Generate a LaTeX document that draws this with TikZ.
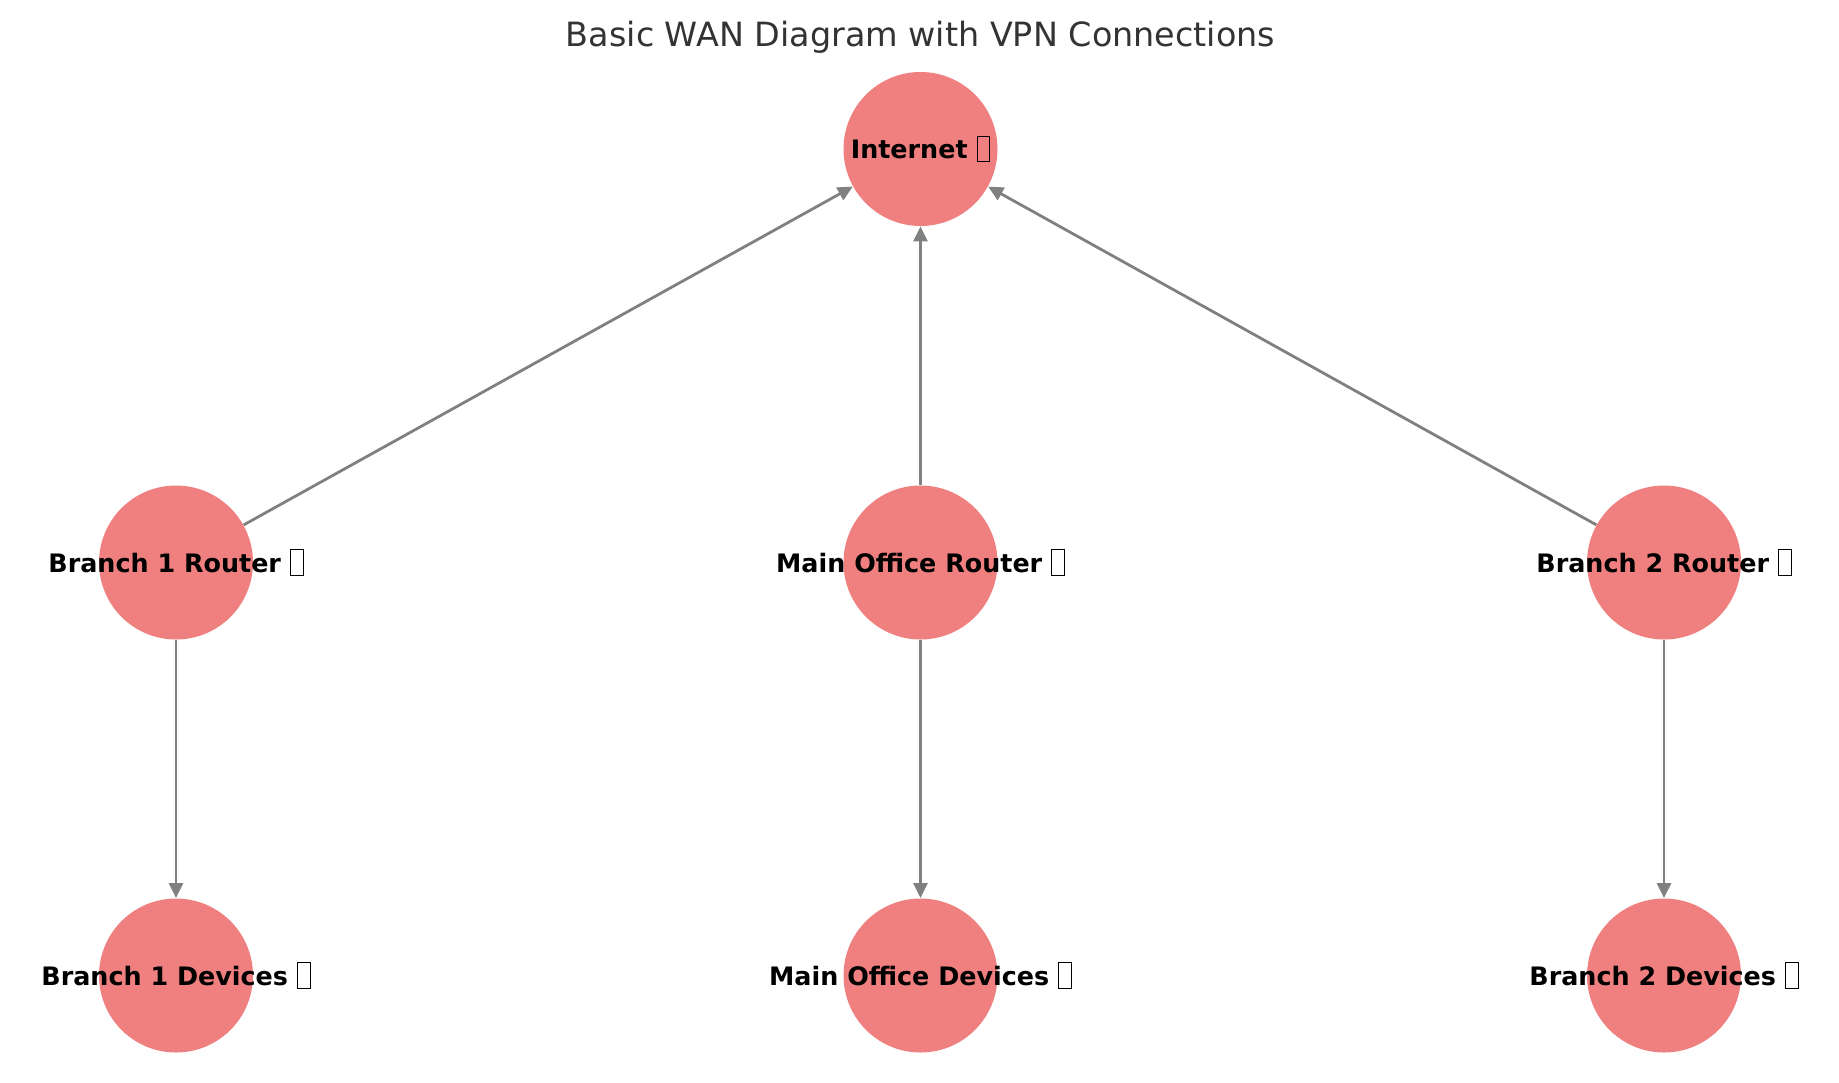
\documentclass[tikz,border=0pt]{standalone}
\usepackage{fontspec}
\setmainfont{DejaVu Sans}
\usetikzlibrary{arrows.meta}
\definecolor{nodefill}{HTML}{F08080}
\definecolor{edgecol}{HTML}{808080}
\definecolor{titlecol}{HTML}{333333}
\tikzset{
  netnode/.style={circle, fill=nodefill, draw=none, minimum size=77pt, inner sep=0pt},
  netlabel/.style={font=\bfseries\fontsize{12.7}{14}\selectfont, text=black, inner sep=0pt},
  link/.style={draw=edgecol, line width=1.4pt, -{Triangle[length=7.5pt,width=7pt]}},
}
\newcommand{\tofu}{\raisebox{-0.14em}{\tikz\draw[line width=0.5pt] (0,0) rectangle (0.5em,1.0em);}}
\begin{document}
\begin{tikzpicture}[x=0.5pt,y=-0.5pt]
\useasboundingbox (0,0) rectangle (1839,1082);
\node[text=titlecol, font=\fontsize{16.7}{19}\selectfont] (title) at (920.5,37) {Basic WAN Diagram with VPN Connections};
\node[netnode] (inet) at (920.5,149) {};
\node[netnode] (b1r) at (176,562.5) {};
\node[netnode] (mr) at (920.5,562.5) {};
\node[netnode] (b2r) at (1664,562.5) {};
\node[netnode] (b1d) at (176,975.5) {};
\node[netnode] (md) at (920.5,975.5) {};
\node[netnode] (b2d) at (1664,975.5) {};
\draw[link] (b1r) -- (inet);
\draw[link] (mr) -- (inet);
\draw[link] (b2r) -- (inet);
\draw[link] (b1r) -- (b1d);
\draw[link] (mr) -- (md);
\draw[link] (b2r) -- (b2d);
\node[netlabel] (linet) at (inet) {Internet \tofu};
\node[netlabel] (lb1r) at (b1r) {Branch 1 Router \tofu};
\node[netlabel] (lmr) at (mr) {Main Office Router \tofu};
\node[netlabel] (lb2r) at (b2r) {Branch 2 Router \tofu};
\node[netlabel] (lb1d) at (b1d) {Branch 1 Devices \tofu};
\node[netlabel] (lmd) at (md) {Main Office Devices \tofu};
\node[netlabel] (lb2d) at (b2d) {Branch 2 Devices \tofu};
\end{tikzpicture}
\end{document}
